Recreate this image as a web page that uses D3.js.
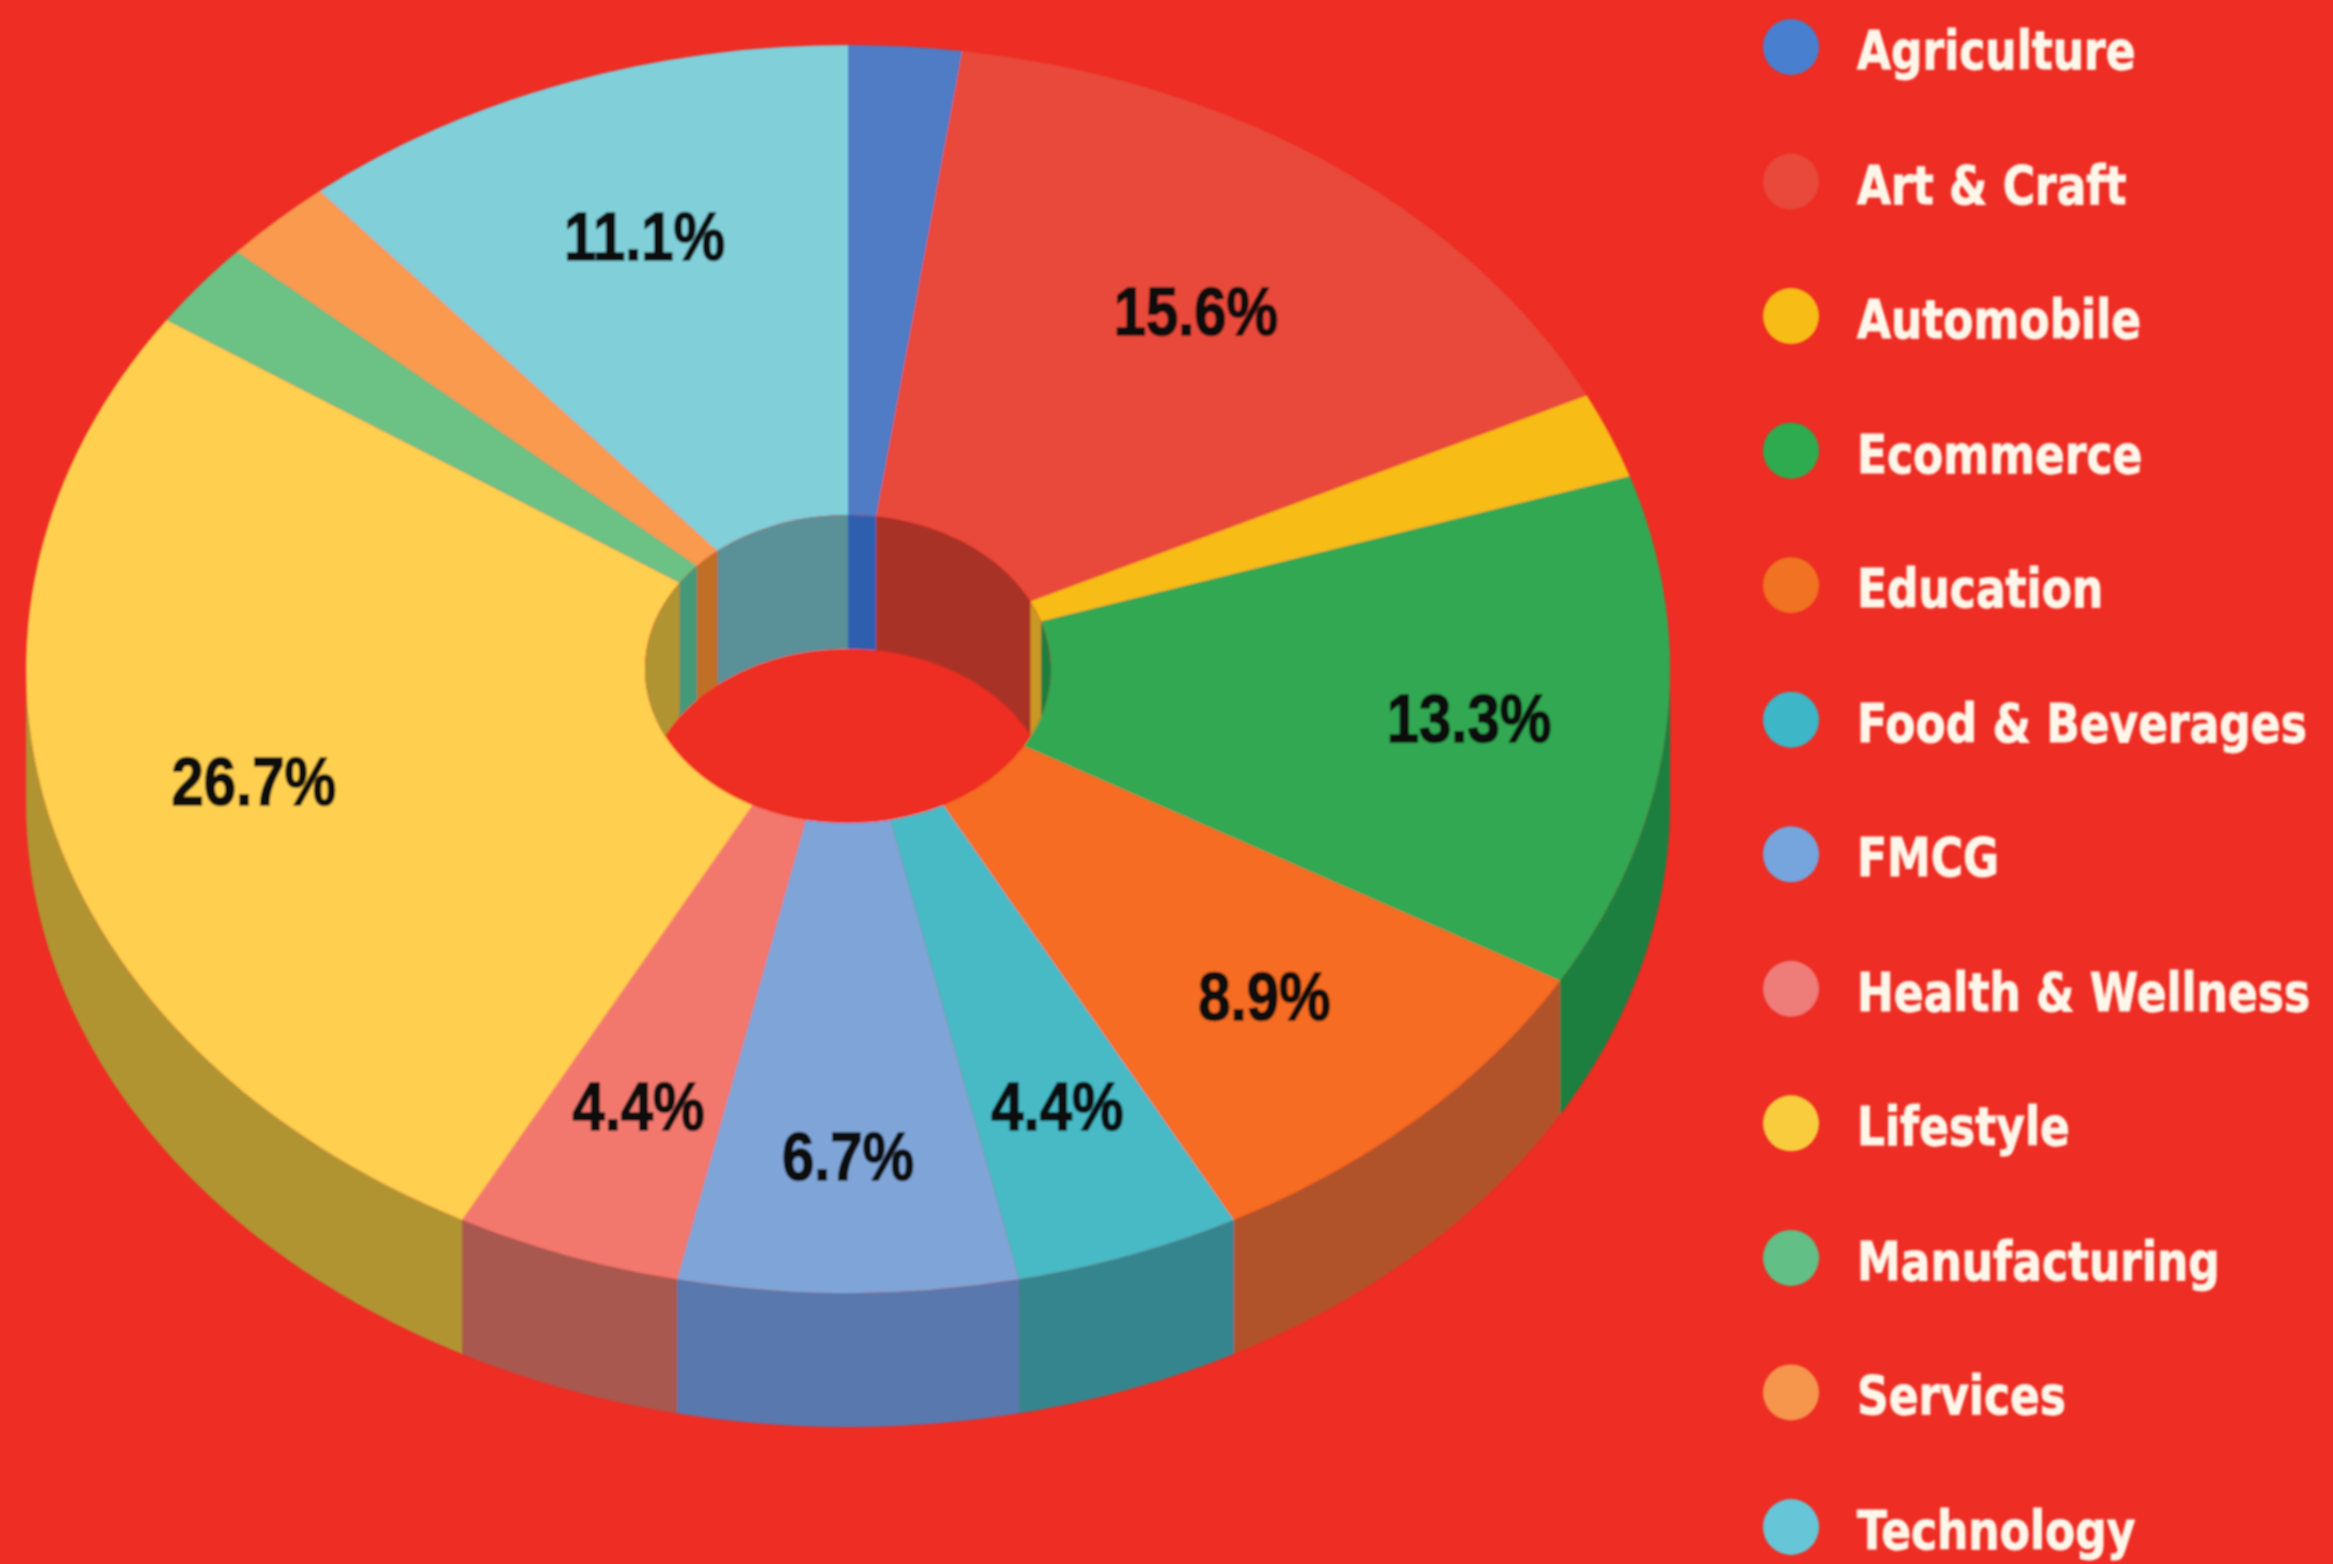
<!DOCTYPE html>
<html>
<head>
<meta charset="utf-8">
<script src="https://cdn.jsdelivr.net/npm/d3@7"></script>
<style>
  html, body { margin: 0; padding: 0; background: #ee2d24; overflow: hidden; }
</style>
</head>
<body>
<div id="container"></div>
<script>
// share of companies per sector, counted out of 45 (labels read 2.2%, 15.6% ...)
let categories = ["Agriculture", "Art & Craft", "Automobile", "Ecommerce", "Education", "Food & Beverages",
    "FMCG", "Health & Wellness", "Lifestyle", "Manufacturing", "Services", "Technology"];
let counts = [1, 7, 1, 6, 4, 2, 3, 2, 12, 1, 1, 5];
let percentLabels = ["", "15.6%", "", "13.3%", "8.9%", "4.4%", "6.7%", "4.4%", "26.7%", "", "", "11.1%"];
let faceColors = ["#4f7cc4", "#e8493a", "#f8bc15", "#33a853", "#f56c20", "#46bac6",
    "#7fa5d8", "#f2786e", "#ffcf4f", "#6cc184", "#f99a50", "#80cfd9"];
let wallColors = ["#2f5fae", "#a83026", "#c89820", "#1f7f40", "#b05229", "#34858f",
    "#5878ae", "#a85850", "#b09432", "#459878", "#c07028", "#5a9098"];
let legendSwatchColors = ["#4a7fcf", "#e8493a", "#f8bc15", "#2eaa50", "#f07222", "#3db6c8",
    "#74a5dc", "#ee7b78", "#f8cc3c", "#62c087", "#f6964e", "#66c6d8"];

let w = 2333;
let h = 1564;
let bg = "#ee2d24";

// ellipse of the top face
let cx = 848;
let cy = 669;
let rx = 822;
let ry = 624;
let holeRx = 203;
let holeRy = holeRx * ry / rx;
let depth = 134;
let squash = ry / rx;
let labelRadius = 0.745;

// hand nudges in px, the original chart did not place its labels exactly on a ring
let labelNudges = {
    "15.6%": [-12, 18],
    "13.3%": [12, 1],
    "8.9%": [-9, -7],
    "6.7%": [0, 22],
    "11.1%": [6, 4]
};

let slices = d3.pie().sort(null).value(d => d.count)(
    categories.map((c, i) => ({ name: c, count: counts[i], face: faceColors[i], wall: wallColors[i], label: percentLabels[i] }))
);

let viz = d3.select("#container")
    .append("svg")
    .attr("width", w)
    .attr("height", h)
    .style("display", "block");

viz.append("rect").attr("width", w).attr("height", h).attr("fill", bg);

let defs = viz.append("defs");
// the source picture is a soft upscale, so everything gets a small blur
defs.append("filter").attr("id", "soft")
    .attr("x", "-5%").attr("y", "-5%").attr("width", "110%").attr("height", "110%")
    .append("feGaussianBlur").attr("stdDeviation", 1.3);
defs.append("clipPath").attr("id", "holeClip")
    .append("ellipse")
    .attr("cx", cx).attr("cy", cy).attr("rx", holeRx).attr("ry", holeRy);

let chart = viz.append("g").attr("filter", "url(#soft)");

// wall = band between an ellipse arc and the same arc moved down by depth
let wallLine = d3.line();

function wallPath(a0, a1, radiusX, radiusY) {
    let steps = Math.max(2, Math.ceil((a1 - a0) / 0.02));
    let top = d3.range(steps + 1).map(i => {
        let a = a0 + (a1 - a0) * i / steps;
        return [cx + radiusX * Math.sin(a), cy - radiusY * Math.cos(a)];
    });
    let bottom = top.slice().reverse().map(p => [p[0], p[1] + depth]);
    return wallLine(top.concat(bottom)) + "Z";
}

// OUTER WALLS, only the front half (pi/2 .. 3pi/2) can be seen
let frontStart = Math.PI / 2;
let frontEnd = Math.PI * 3 / 2;
chart.append("g").selectAll("path")
    .data(slices.filter(d => d.endAngle > frontStart && d.startAngle < frontEnd))
    .enter()
    .append("path")
    .attr("d", d => wallPath(Math.max(d.startAngle, frontStart), Math.min(d.endAngle, frontEnd), rx, ry))
    .attr("fill", d => d.data.wall);

// TOP FACES
let arc = d3.arc().innerRadius(holeRx).outerRadius(rx);
chart.append("g")
    .attr("transform", `translate(${cx},${cy}) scale(1,${squash})`)
    .selectAll("path")
    .data(slices)
    .enter()
    .append("path")
    .attr("d", arc)
    .attr("fill", d => d.data.face);

// HOLE: background first, then the back half of the inner wall, cut to the hole
chart.append("ellipse")
    .attr("cx", cx).attr("cy", cy).attr("rx", holeRx).attr("ry", holeRy)
    .attr("fill", bg);

function backAngle(a) {
    // inner wall is seen for angles around 0 so keep them in -pi/2 .. pi/2
    return a > Math.PI ? a - Math.PI * 2 : a;
}

let innerWalls = [];
slices.forEach(d => {
    if (d.endAngle <= Math.PI / 2 || d.startAngle >= Math.PI * 3 / 2) {
        innerWalls.push({ a0: backAngle(d.startAngle), a1: d.endAngle >= Math.PI * 3 / 2 ? backAngle(d.endAngle) : d.endAngle, wall: d.data.wall });
    } else if (d.startAngle < Math.PI / 2) {
        innerWalls.push({ a0: d.startAngle, a1: Math.PI / 2, wall: d.data.wall });
    } else if (d.endAngle > Math.PI * 3 / 2) {
        innerWalls.push({ a0: -Math.PI / 2, a1: backAngle(d.endAngle), wall: d.data.wall });
    }
});

chart.append("g")
    .attr("clip-path", "url(#holeClip)")
    .selectAll("path")
    .data(innerWalls)
    .enter()
    .append("path")
    .attr("d", d => wallPath(d.a0, d.a1, holeRx, holeRy))
    .attr("fill", d => d.wall);

// PERCENT LABELS, arial bold look, the picture is stretched a bit in height
let labelArc = d3.arc().innerRadius(rx * labelRadius).outerRadius(rx * labelRadius);
chart.append("g")
    .selectAll("text")
    .data(slices.filter(d => d.data.label !== ""))
    .enter()
    .append("text")
    .attr("transform", d => {
        let c = labelArc.centroid(d);
        let nudge = labelNudges[d.data.label] || [0, 0];
        return `translate(${cx + c[0] + nudge[0]},${cy + c[1] * squash + nudge[1]}) scale(1,1.17)`;
    })
    .attr("text-anchor", "middle")
    .attr("dy", "0.35em")
    .attr("font-family", "'Liberation Sans', Arial, sans-serif")
    .attr("font-weight", "bold")
    .attr("font-size", 58)
    .attr("fill", "#0a0a0a")
    .attr("stroke", "#0a0a0a")
    .attr("stroke-width", 1.4)
    .text(d => d.data.label);

// LEGEND
let legendY = d3.scalePoint().domain(categories).range([47, 1527]);
let legend = chart.append("g").selectAll("g")
    .data(categories)
    .enter()
    .append("g")
    .attr("transform", d => `translate(1791,${legendY(d)})`);

legend.append("circle")
    .attr("r", 28)
    .attr("fill", (d, i) => legendSwatchColors[i]);

legend.append("text")
    .attr("transform", "translate(66,3) scale(1,1.2)")
    .attr("dy", "0.36em")
    .attr("font-family", "'DejaVu Sans', sans-serif")
    .attr("font-weight", "bold")
    .attr("font-size", 44)
    .attr("fill", "#fff6ea")
    .attr("stroke", "#fff6ea")
    .attr("stroke-width", 0.8)
    .text(d => d);
</script>
</body>
</html>
